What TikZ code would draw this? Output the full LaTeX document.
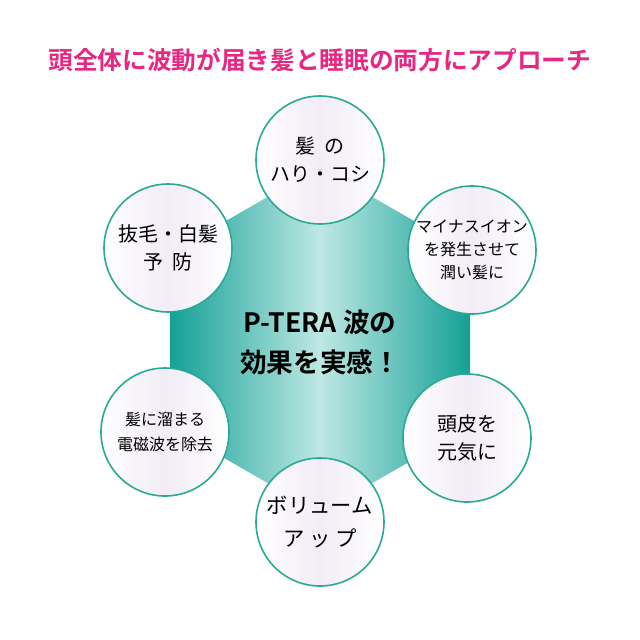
\documentclass[tikz,border=0pt]{standalone}
\usepackage{fontspec}
\setmainfont{Noto Sans CJK JP}
\newfontfamily\jpbold{Noto Sans CJK JP Bold}
\definecolor{titlepink}{RGB}{230,40,130}
\definecolor{hexteal}{RGB}{20,160,150}
\definecolor{hexlight}{RGB}{190,232,228}
\definecolor{ringteal}{RGB}{40,170,150}
\usetikzlibrary{shapes.geometric}
\tikzset{
  bubble/.style={circle,draw=ringteal,line width=1.2pt,minimum size=96pt,
    inner sep=0pt,align=center,font=\fontsize{15}{21}\selectfont,
    left color=white,right color=white,middle color={rgb,255:red,242;green,236;blue,246}},
  hexa/.style={regular polygon,regular polygon sides=6,shape border rotate=30,
    minimum size=260pt,inner sep=0pt,
    left color=hexteal,right color=hexteal,middle color=hexlight}
}
\begin{document}
\begin{tikzpicture}[x=0.75pt,y=0.75pt,yscale=-1,xscale=1]
\useasboundingbox (0,0) rectangle (640,640);
\fill[white] (0,0) rectangle (640,640);
% title
\node (title) at (320,60) [text=titlepink,font=\jpbold\fontsize{18.5}{22}\selectfont] {頭全体に波動が届き髪と睡眠の両方にアプローチ};
% hexagon
\node[hexa] (hex) at (320,340) {};
\node (center) at (320,342) [align=center,font=\jpbold\fontsize{20}{30}\selectfont] {P-TERA 波の\\効果を実感！};
% circles
\node[bubble] (top) at (320,160) {髪\ \ の\\ハり・コシ};
\node[bubble] (ul) at (168,248) {抜毛・白髪\\予\ \ 防};
\node[bubble] (ur) at (472,250) [font=\fontsize{12}{17}\selectfont] {マイナスイオン\\を発生させて\\潤い髪に};
\node[bubble] (ll) at (165,432) [font=\fontsize{12}{19}\selectfont] {髪に溜まる\\電磁波を除去};
\node[bubble] (lr) at (467,438) {頭皮を\\元気に};
\node[bubble] (bot) at (320,522) [font=\fontsize{16}{25}\selectfont] {ボリューム\\ア\ ッ\ プ};
\end{tikzpicture}
\end{document}
